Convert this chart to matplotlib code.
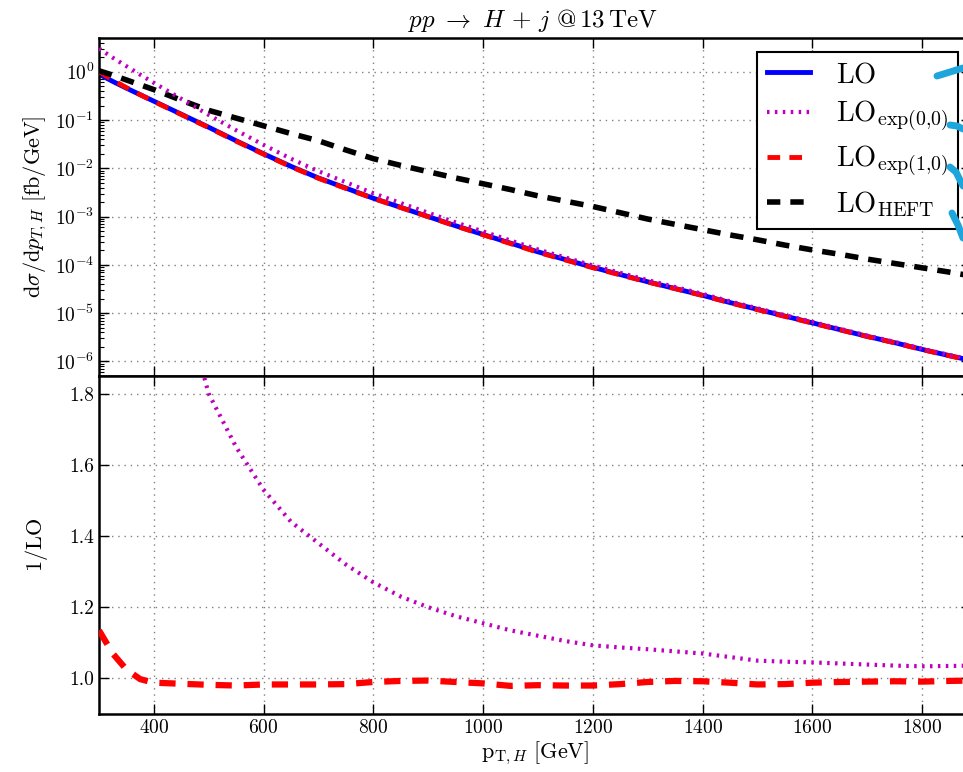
import numpy as np
import matplotlib
matplotlib.use("Agg")
from matplotlib import pyplot as plt
from matplotlib.lines import Line2D

plt.rcParams['font.family'] = 'serif'
plt.rcParams['font.serif'] = ['cmr10']
plt.rcParams['mathtext.fontset'] = 'cm'
plt.rcParams['axes.formatter.use_mathtext'] = True
plt.rcParams['axes.unicode_minus'] = False

# p_T,H grid [GeV]
pt = [300, 325, 350, 375, 400, 450, 500, 550, 600, 650, 700, 750, 800, 850, 900,
      950, 1000, 1050, 1100, 1150, 1200, 1250, 1300, 1350, 1400, 1450, 1500,
      1550, 1600, 1650, 1700, 1750, 1800, 1850, 1890]

# log10 of dsigma/dpT [fb/GeV]
log_lo = [-0.05, -0.20, -0.34, -0.475, -0.61, -0.88, -1.15, -1.43, -1.70, -1.96,
          -2.20, -2.41, -2.62, -2.81, -3.00, -3.19, -3.37, -3.55, -3.73, -3.89,
          -4.05, -4.20, -4.35, -4.49, -4.63, -4.78, -4.92, -5.06, -5.20, -5.34,
          -5.48, -5.61, -5.75, -5.88, -5.98]
log_heft = [0.02, -0.07, -0.17, -0.27, -0.37, -0.59, -0.80, -0.96, -1.12, -1.28,
            -1.43, -1.62, -1.80, -1.94, -2.07, -2.20, -2.32, -2.44, -2.57, -2.68,
            -2.79, -2.92, -3.05, -3.16, -3.27, -3.38, -3.48, -3.59, -3.69, -3.78,
            -3.88, -3.97, -4.06, -4.15, -4.23]

# ratios to LO
r_exp00 = [3.40, 3.10, 2.85, 2.60, 2.40, 2.08, 1.80, 1.65, 1.53, 1.44, 1.38, 1.32,
           1.27, 1.23, 1.20, 1.175, 1.155, 1.135, 1.12, 1.105, 1.093, 1.087, 1.082,
           1.076, 1.07, 1.06, 1.05, 1.047, 1.045, 1.042, 1.039, 1.036, 1.034,
           1.035, 1.036]
r_exp10 = [1.135, 1.07, 1.025, 0.998, 0.988, 0.985, 0.982, 0.980, 0.983, 0.983,
           0.983, 0.984, 0.990, 0.993, 0.994, 0.990, 0.986, 0.979, 0.981, 0.980,
           0.980, 0.984, 0.990, 0.993, 0.992, 0.988, 0.983, 0.984, 0.988, 0.990,
           0.991, 0.992, 0.991, 0.993, 0.994]

pt = np.array(pt)
lo = 10.0 ** np.array(log_lo)
heft = 10.0 ** np.array(log_heft)
exp00 = lo * np.array(r_exp00)
exp10 = lo * np.array(r_exp10)

W, H = 963, 772
fig = plt.figure(figsize=(W / 100, H / 100), dpi=100)
ax1 = fig.add_axes([99 / W, 1 - 376 / H, 872 / W, 338 / H])
ax2 = fig.add_axes([99 / W, 1 - 714 / H, 872 / W, 338 / H])

ax1.plot(pt, lo, color='blue', lw=3.5, zorder=2, label=r'$\mathrm{LO}$')
ax1.plot(pt, exp00, color='m', lw=3, dashes=(0.6, 1.3), zorder=4,
         label=r'$\mathrm{LO}_{\mathrm{exp}(0{,}0)}$')
ax1.plot(pt, exp10, color='red', lw=3.5, dashes=(2.6, 1.9), zorder=3,
         label=r'$\mathrm{LO}_{\mathrm{exp}(1{,}0)}$')
ax1.plot(pt, heft, color='black', lw=4, dashes=(2.4, 1.8), zorder=3,
         label=r'$\mathrm{LO}_{\mathrm{HEFT}}$')
ax1.set_yscale('log')
ax1.set_ylim(5e-7, 5)
ax1.set_yticks([1e-6, 1e-5, 1e-4, 1e-3, 1e-2, 1e-1, 1])
ax1.set_ylabel(r'$\mathrm{d}\sigma/\mathrm{d}p_{T,H}\ [\mathrm{fb/GeV}]$', fontsize=16)
ax1.tick_params(labelbottom=False)
leg = ax1.legend(loc='upper right', bbox_to_anchor=(958 / W, 1 - 52 / H),
                 bbox_transform=fig.transFigure, borderaxespad=0,
                 fontsize=20.5, handlelength=1.5, fancybox=False, framealpha=1,
                 edgecolor='black', labelspacing=0.36, handletextpad=0.9,
                 borderpad=0.35)
leg.get_frame().set_linewidth(1.5)

ax2.plot(pt, r_exp00, color='m', lw=3, dashes=(0.6, 1.3), zorder=4)
ax2.plot(pt, r_exp10, color='red', lw=4.5, dashes=(2.6, 1.9), zorder=3)
ax2.set_ylim(0.9, 1.85)
ax2.set_yticks([1.0, 1.2, 1.4, 1.6, 1.8])
ax2.set_ylabel(r'$1/\mathrm{LO}$', fontsize=16, labelpad=14)
ax2.set_xlabel(r'$\mathrm{p}_{\mathrm{T},H}\ [\mathrm{GeV}]$', fontsize=16, labelpad=2)

for ax in (ax1, ax2):
    ax.set_xlim(300, 300 + 872 / 0.5487)
    ax.set_xticks([400, 600, 800, 1000, 1200, 1400, 1600, 1800])
    ax.grid(True, linestyle=(0, (1, 3.5)), color='0.5', lw=1)
    ax.tick_params(which='both', direction='in', top=True, right=True, labelsize=14)
    ax.tick_params(which='major', length=7, width=1)
    ax.tick_params(which='minor', length=3.5, width=0.8)
    for s in ax.spines.values():
        s.set_linewidth(1.8)

ax2.set_yticklabels(['1.0', '1.2', '1.4', '1.6', '1.8'])

fig.text(533 / W, 1 - 20 / H, r'$pp\ \rightarrow\ H\,+\,j\ @\,13\,\mathrm{TeV}$',
         ha='center', va='center', fontsize=18)

# cyan strokes at the right edge
strokes = [
    ([937, 963], [76, 68]),
    ([950, 957, 963], [125, 126, 129]),
    ([950, 956, 963], [167, 172, 186]),
    ([952, 958, 963], [213, 225, 238]),
]
for xs, ys in strokes:
    fig.add_artist(Line2D([x / W for x in xs], [1 - y / H for y in ys],
                          color='#1ea5db', lw=5, solid_capstyle='round',
                          transform=fig.transFigure, zorder=10))

fig.savefig('out.png', dpi=100)
